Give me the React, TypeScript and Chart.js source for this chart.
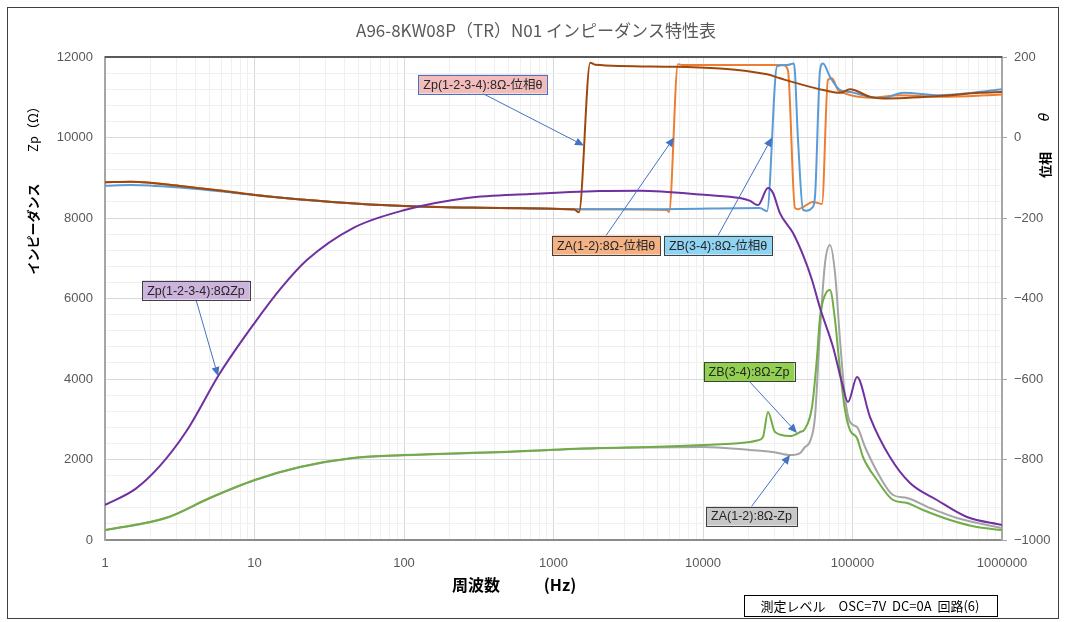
import React, { useEffect, useRef } from 'react';
import { Chart, registerables } from 'chart.js';

Chart.register(...registerables);

// 周波数軸の目盛 (Hz)
const xDecades = [1, 10, 100, 1000, 10000, 100000, 1000000];
const yTicks = [0, 2000, 4000, 6000, 8000, 10000, 12000];

// Zp(1-2-3-4):8Ω インピーダンス
const zpFreq = [1, 1.6, 2.33, 3.5, 5.88, 10, 15, 22.4, 45.6, 101, 264, 700, 2050, 3790, 10640, 17670, 20500, 23330, 27200, 29400, 32700, 40000, 47000, 53600, 60640, 74100, 85100, 93300, 107200, 131000, 178000, 242500, 367000, 583000, 1000000];
const zpImpedance = [870, 1270, 1840, 2700, 4148, 5390, 6250, 6955, 7750, 8197, 8495, 8595, 8669, 8677, 8570, 8495, 8430, 8321, 8744, 8620, 8120, 7626, 7050, 6458, 5763, 4794, 3900, 3428, 4049, 3055, 2062, 1416, 994, 571, 373];

// ZB(3-4):8Ω インピーダンス
const zbFreq = [1, 2.6, 5, 10, 20, 45, 100, 440, 2000, 4400, 10000, 20600, 23000, 25200, 27200, 30300, 38200, 44600, 48000, 53600, 57900, 60640, 65500, 70700, 76400, 82500, 89100, 96200, 107200, 117500, 145800, 186600, 231500, 296300, 449000, 680000, 1000000];
const zbImpedance = [248, 560, 1043, 1490, 1813, 2037, 2111, 2186, 2285, 2310, 2360, 2434, 2470, 2560, 3180, 2683, 2583, 2683, 2760, 3304, 4546, 5539, 6086, 6210, 5465, 4223, 3229, 2732, 2534, 2062, 1490, 994, 919, 745, 497, 323, 248];

// ZA(1-2):8Ω インピーダンス
const zaFreq = [1, 2.6, 5, 10, 20, 45, 100, 440, 2000, 4400, 10000, 20600, 30000, 38200, 44600, 48100, 51960, 56100, 60640, 65500, 70700, 76400, 82500, 89100, 96200, 107200, 121300, 152800, 186600, 231500, 329700, 500000, 1000000];
const zaImpedance = [240, 553, 1035, 1482, 1805, 2030, 2105, 2180, 2278, 2300, 2310, 2236, 2180, 2111, 2161, 2310, 2450, 3055, 5216, 6881, 7328, 6632, 4968, 3552, 2931, 2807, 2310, 1565, 1118, 1043, 795, 547, 298];

// 位相θ
const zpPhaseFreq = [1, 1.5, 3.3, 7.2, 12, 33, 100, 440, 1380, 1480, 1760, 1900, 6300, 26800, 32700, 67500, 82500, 96200, 131000, 160000, 385000, 713000, 1000000];
const zpPhase = [-111, -110, -121, -136, -146, -160, -170, -175, -179, -186, 186, 181, 176, 157, 147, 116, 111, 120, 101, 97, 103, 111, 113];

const zaPhaseFreq = [1, 1.5, 3.3, 7.2, 12, 33, 100, 440, 1380, 3000, 5700, 5930, 6800, 7300, 29400, 34300, 37000, 41200, 43200, 54400, 62500, 68500, 72900, 80000, 86400, 131000, 208000, 385000, 1000000];
const zaPhase = [-111, -110, -121, -136, -146, -160, -170, -175, -178, -178, -180, -185, 182, 180, 180, 180, 167, -175, -178, -160, -165, 143, 147, 118, 111, 99, 105, 101, 107];

const zbPhaseFreq = [1, 1.5, 3.3, 7.2, 12, 33, 100, 440, 1380, 5000, 24000, 26800, 31300, 36500, 40600, 43200, 46700, 49600, 53600, 56100, 60640, 63500, 70700, 82500, 96200, 131000, 160000, 218000, 385000, 600000, 1000000];
const zbPhase = [-120, -118, -125, -137, -146, -160, -170, -175, -178, -178, -175, -183, 177, 180, 184, -6, -180, -182, -175, -148, 167, 184, 151, 118, 113, 101, 98, 111, 105, 110, 120];

// 吹き出し (ラベル位置は周波数 / Zp 値, 矢印先は各軸の値)
const callouts = [
  { text: 'Zp(1-2-3-4):8Ω-位相θ', fill: '#f2bcbc', stroke: '#4472c4', at: [337, 11327], tip: [1600, -20], axis: 'y1' },
  { text: 'ZA(1-2):8Ω-位相θ', fill: '#f4b183', stroke: '#404040', at: [2245, 7328], tip: [6400, 0], axis: 'y1' },
  { text: 'ZB(3-4):8Ω-位相θ', fill: '#8fd4f2', stroke: '#404040', at: [12600, 7328], tip: [28950, 0], axis: 'y1' },
  { text: 'Zp(1-2-3-4):8ΩZp', fill: '#ccb4dc', stroke: '#404040', at: [4.06, 6210], tip: [5.7, 4074], axis: 'y' },
  { text: 'ZB(3-4):8Ω-Zp', fill: '#92d050', stroke: '#404040', at: [20300, 4186], tip: [42500, 2660], axis: 'y' },
  { text: 'ZA(1-2):8Ω-Zp', fill: '#c8c8c8', stroke: '#404040', at: [21100, 596], tip: [38200, 2111], axis: 'y' },
];

const JP = '"Noto Sans CJK JP", sans-serif';
const LATIN = '"Liberation Sans", "Noto Sans CJK JP", sans-serif';

const isDecade = (v: number) => Math.abs(Math.log10(v) - Math.round(Math.log10(v))) < 1e-9;
const toPoints = (xs: number[], ys: number[]) => xs.map((x, i) => ({ x, y: ys[i] }));

const line = (label: string, data: { x: number; y: number }[], color: string, yAxisID: string, order: number) => ({
  label,
  data,
  yAxisID,
  order,
  borderColor: color,
  backgroundColor: color,
  borderWidth: 2,
  pointRadius: 0,
  fill: false,
  cubicInterpolationMode: 'monotone' as const,
});

const decorPlugin = {
  id: 'decor',
  afterDatasetsDraw(chart: any) {
    const { ctx, chartArea, scales } = chart;
    ctx.save();
    // 上枠
    ctx.strokeStyle = '#595959';
    ctx.lineWidth = 2;
    ctx.beginPath();
    ctx.moveTo(chartArea.left, chartArea.top);
    ctx.lineTo(chartArea.right, chartArea.top);
    ctx.stroke();

    ctx.font = '12.5px ' + LATIN;
    callouts.forEach(c => {
      const bx = scales.x.getPixelForValue(c.at[0]);
      const by = scales.y.getPixelForValue(c.at[1]);
      const tx = scales.x.getPixelForValue(c.tip[0]);
      const ty = scales[c.axis].getPixelForValue(c.tip[1]);
      const w = ctx.measureText(c.text).width + 10;
      const h = 19;
      const sy = ty < by ? by - h / 2 : by + h / 2;
      const ang = Math.atan2(ty - sy, tx - bx);
      const al = 9;
      const aw = 4;
      ctx.strokeStyle = '#4472c4';
      ctx.fillStyle = '#4472c4';
      ctx.lineWidth = 1;
      ctx.beginPath();
      ctx.moveTo(bx, sy);
      ctx.lineTo(tx - Math.cos(ang) * al, ty - Math.sin(ang) * al);
      ctx.stroke();
      ctx.beginPath();
      ctx.moveTo(tx, ty);
      ctx.lineTo(tx - Math.cos(ang) * al - Math.sin(ang) * aw, ty - Math.sin(ang) * al + Math.cos(ang) * aw);
      ctx.lineTo(tx - Math.cos(ang) * al + Math.sin(ang) * aw, ty - Math.sin(ang) * al - Math.cos(ang) * aw);
      ctx.closePath();
      ctx.fill();

      ctx.fillStyle = c.fill;
      ctx.fillRect(bx - w / 2, by - h / 2, w, h);
      ctx.strokeStyle = c.stroke;
      ctx.lineWidth = 1;
      ctx.strokeRect(Math.round(bx - w / 2) + 0.5, Math.round(by - h / 2) + 0.5, Math.round(w), h);
      ctx.fillStyle = '#262626';
      ctx.textAlign = 'center';
      ctx.textBaseline = 'middle';
      ctx.fillText(c.text, bx, by + 1);
    });
    ctx.restore();
  },
  afterDraw(chart: any) {
    const { ctx } = chart;
    ctx.save();
    ctx.textAlign = 'center';
    ctx.textBaseline = 'middle';

    ctx.fillStyle = '#595959';
    ctx.font = '17px ' + JP;
    ctx.fillText('A96-8KW08P（TR）N01 インピーダンス特性表', 528, 23);

    ctx.fillStyle = '#000000';
    ctx.font = 'bold 16px ' + JP;
    ctx.fillText('周波数', 468, 577);
    ctx.fillText('(Hz)', 552, 577);

    ctx.font = 'bold 13px ' + JP;
    ctx.save();
    ctx.translate(25, 0);
    ctx.rotate(-Math.PI / 2);
    ctx.fillText('インピーダンス', -221, 0);
    ctx.font = '13px ' + JP;
    ctx.fillText('Zp（Ω）', -118, 0);
    ctx.restore();

    ctx.save();
    ctx.translate(1037, 0);
    ctx.rotate(-Math.PI / 2);
    ctx.fillText('位相', -157, 0);
    ctx.font = 'italic 14px "DejaVu Sans", sans-serif';
    ctx.fillText('θ', -109, 0);
    ctx.restore();

    // 測定条件
    ctx.fillStyle = '#ffffff';
    ctx.fillRect(736, 587, 253, 22);
    ctx.strokeStyle = '#000000';
    ctx.lineWidth = 1;
    ctx.strokeRect(736.5, 587.5, 253, 21);
    ctx.fillStyle = '#000000';
    ctx.font = '13px ' + JP;
    ctx.fillText('測定レベル　OSC=7V  DC=0A  回路(6)', 862, 598);
    ctx.restore();
  },
};

const App: React.FC = () => {
  const canvasRef = useRef<HTMLCanvasElement>(null);
  const chartRef = useRef<Chart | null>(null);

  useEffect(() => {
    if (!canvasRef.current) return;
    const xGrid: number[] = [];
    xDecades.forEach(d => {
      for (let m = 1; m <= 9; m++) {
        if (d * m <= 1000000) xGrid.push(d * m);
      }
    });

    chartRef.current = new Chart(canvasRef.current, {
      type: 'line',
      data: {
        datasets: [
          line('Zp(1-2-3-4):8ΩZp', toPoints(zpFreq, zpImpedance), '#7030a0', 'y', 0),
          line('Zp(1-2-3-4):8Ω-位相θ', toPoints(zpPhaseFreq, zpPhase), '#9e480e', 'y1', 1),
          line('ZB(3-4):8Ω-位相θ', toPoints(zbPhaseFreq, zbPhase), '#5b9bd5', 'y1', 2),
          line('ZA(1-2):8Ω-位相θ', toPoints(zaPhaseFreq, zaPhase), '#ed7d31', 'y1', 3),
          line('ZB(3-4):8Ω-Zp', toPoints(zbFreq, zbImpedance), '#70ad47', 'y', 4),
          line('ZA(1-2):8Ω-Zp', toPoints(zaFreq, zaImpedance), '#a5a5a5', 'y', 5),
        ],
      },
      options: {
        animation: false,
        responsive: true,
        maintainAspectRatio: false,
        layout: { padding: { top: 49, left: 0, right: 0, bottom: 0 } },
        plugins: {
          legend: { display: false },
          title: { display: false },
          tooltip: { enabled: false },
        },
        scales: {
          x: {
            type: 'logarithmic',
            position: 'bottom',
            min: 1,
            max: 1000000,
            afterBuildTicks: (scale: any) => {
              scale.ticks = xGrid.map(value => ({ value }));
            },
            afterFit: (scale: any) => {
              scale.height = 78;
            },
            grid: {
              color: (c: any) => (c.tick && isDecade(c.tick.value) ? '#d9d9d9' : '#f0f0f0'),
              drawTicks: false,
            },
            border: { color: '#8c8c8c', width: 2 },
            ticks: {
              autoSkip: false,
              maxRotation: 0,
              padding: 16,
              color: '#595959',
              font: { size: 13, family: LATIN },
              callback: (v: any) => (isDecade(Number(v)) ? String(Number(v)) : ''),
            },
          },
          y: {
            type: 'linear',
            position: 'left',
            min: 0,
            max: 12000,
            afterFit: (scale: any) => {
              scale.width = 97;
            },
            grid: {
              color: (c: any) => (c.tick && yTicks.includes(c.tick.value) ? '#d9d9d9' : '#f0f0f0'),
              drawTicks: false,
            },
            border: { color: '#a6a6a6', width: 2 },
            ticks: {
              stepSize: 400,
              autoSkip: false,
              padding: 12,
              color: '#595959',
              font: { size: 13, family: LATIN },
              callback: (v: any) => (yTicks.includes(Number(v)) ? String(v) : ''),
            },
          },
          y1: {
            type: 'linear',
            position: 'right',
            min: -1000,
            max: 200,
            afterFit: (scale: any) => {
              scale.width = 56;
            },
            grid: { drawOnChartArea: false, drawTicks: true, tickLength: 5, color: '#a6a6a6' },
            border: { color: '#a6a6a6', width: 2 },
            ticks: {
              stepSize: 200,
              padding: 7,
              color: '#595959',
              font: { size: 13, family: LATIN },
              callback: (v: any) => (Number(v) < 0 ? '\u2212' + Math.abs(Number(v)) : String(v)),
            },
          },
        },
      },
      plugins: [decorPlugin],
    } as any);

    return () => {
      chartRef.current?.destroy();
      chartRef.current = null;
    };
  }, []);

  return (
    <div
      style={{
        position: 'fixed',
        left: 7,
        top: 7,
        width: 1052,
        height: 612,
        boxSizing: 'border-box',
        border: '1px solid #404040',
        background: '#ffffff',
      }}
    >
      <div style={{ position: 'relative', width: 1050, height: 610 }}>
        <canvas ref={canvasRef} />
      </div>
    </div>
  );
};

export default App;
